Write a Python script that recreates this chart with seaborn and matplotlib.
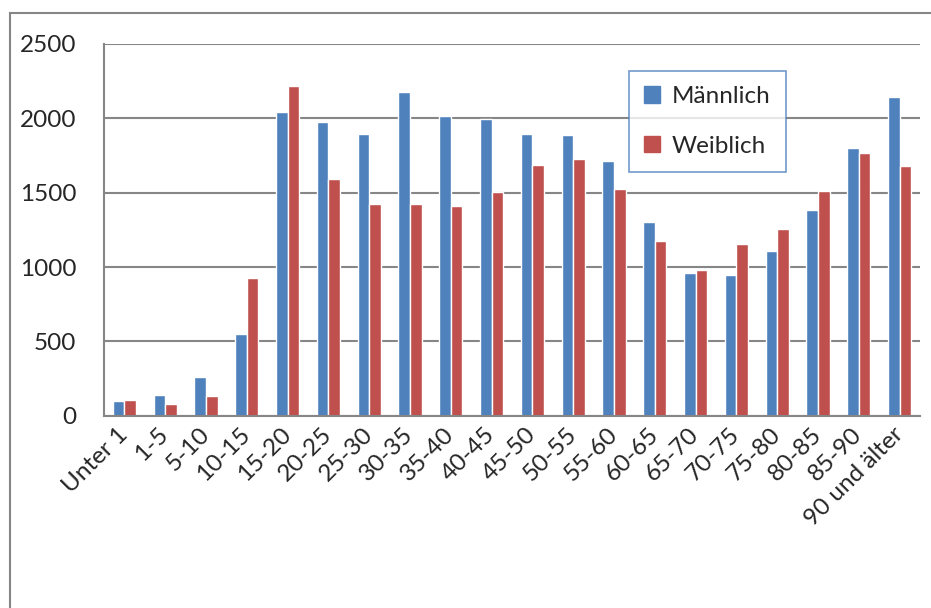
import numpy as np
import pandas as pd
import matplotlib
matplotlib.use("Agg")
import matplotlib.pyplot as plt
import seaborn as sns
from matplotlib.patches import Rectangle, Patch

# === Data ===
age_groups = ["Unter 1", "1-5", "5-10", "10-15", "15-20", "20-25", "25-30",
              "30-35", "35-40", "40-45", "45-50", "50-55", "55-60", "60-65",
              "65-70", "70-75", "75-80", "80-85", "85-90", "90 und älter"]
maennlich = [100, 137, 258, 550, 2046, 1976, 1898, 2178, 2017, 1994,
             1893, 1887, 1714, 1303, 958, 947, 1108, 1386, 1801, 2145]
weiblich = [108, 79, 130, 924, 2216, 1595, 1427, 1422, 1411, 1505,
            1687, 1729, 1523, 1173, 980, 1155, 1254, 1510, 1768, 1682]

df = pd.DataFrame({"Alter": age_groups, "Männlich": maennlich, "Weiblich": weiblich})
df_long = df.melt(id_vars="Alter", var_name="Geschlecht", value_name="Anzahl")

# === Style ===
sns.set_style("white")
plt.rcParams["font.family"] = ["Lato", "DejaVu Sans"]
grid_col = "#868686"
fs = 17.5

W, H = 931, 608
fig = plt.figure(figsize=(W / 100, H / 100), dpi=100)
ax = fig.add_axes([104 / W, 1 - 415.7 / H, 816 / W, 371.7 / H])

sns.barplot(data=df_long, x="Alter", y="Anzahl", hue="Geschlecht",
            palette={"Männlich": "#4F81BD", "Weiblich": "#C0504D"},
            width=0.57, gap=0, saturation=1, ax=ax, legend=False)

ax.set_xlim(-0.5, len(age_groups) - 0.5)
ax.set_ylim(0, 2500)
ax.set_yticks(np.arange(0, 2501, 500))
ax.yaxis.grid(True, color=grid_col, linewidth=1.5)
ax.set_axisbelow(True)
ax.set_xlabel("")
ax.set_ylabel("")

for s in ["top", "right"]:
    ax.spines[s].set_visible(False)
for s in ["left", "bottom"]:
    ax.spines[s].set_color(grid_col)
    ax.spines[s].set_linewidth(1.5)

ax.tick_params(axis="y", length=8, width=1.5, color=grid_col, pad=12, labelsize=fs)
ax.tick_params(axis="x", which="major", length=0, pad=11, labelsize=fs)
ax.set_xticks(np.arange(-0.5, len(age_groups), 1), minor=True)
ax.tick_params(axis="x", which="minor", length=7, width=1.5, color=grid_col, direction="out")
ax.set_xticks(range(len(age_groups)))
ax.set_xticklabels(age_groups, rotation=45, ha="right", va="center", rotation_mode="anchor")

# legend
handles = [Patch(color="#4F81BD", label="Männlich"), Patch(color="#C0504D", label="Weiblich")]
leg = fig.legend(handles=handles, loc="upper left", bbox_to_anchor=(629 / W, 1 - 71 / H),
                 fontsize=fs, frameon=True, fancybox=False, borderaxespad=0,
                 handlelength=0.65, handleheight=0.65, handletextpad=0.5,
                 labelspacing=1.18, borderpad=0.62)
leg.get_frame().set_edgecolor("#4F81BD")
leg.get_frame().set_linewidth(1.2)

# outer chart frame (clipped at the image border)
fig.patches.append(Rectangle((10 / W, -0.1), 1.2, 1 - 13.5 / H + 0.1,
                             transform=fig.transFigure, fill=False,
                             edgecolor=grid_col, linewidth=1.5))

fig.savefig("out.png", dpi=100)
